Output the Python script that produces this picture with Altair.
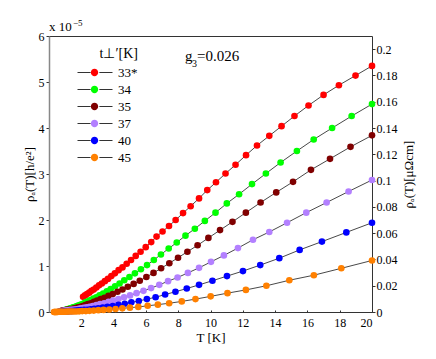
import altair as alt
import pandas as pd

series_names = ["33*", "34", "35", "37", "40", "45"]
colors = ["#ff0000", "#00ff00", "#800000", "#b380ff", "#0000ff", "#ff8000"]

T_33 = [2.11, 2.23, 2.35, 2.49, 2.63, 2.77, 2.93, 3.10, 3.27, 3.46, 3.65, 3.86, 4.08, 4.31, 4.55,
        4.81, 5.08, 5.37, 5.67, 5.99, 6.33, 6.66, 7.03, 7.43, 7.84, 8.30, 8.77, 9.29, 9.80, 10.34,
        10.93, 11.55, 12.20, 12.88, 13.64, 14.40, 15.20, 16.07, 17.00, 17.95, 18.98, 20.00]
rho_33 = [0.33, 0.36, 0.39, 0.42, 0.46, 0.49, 0.53, 0.58, 0.62, 0.67, 0.72, 0.78, 0.84, 0.91, 0.97,
          1.05, 1.13, 1.22, 1.31, 1.41, 1.52, 1.64, 1.75, 1.87, 2.00, 2.15, 2.30, 2.47, 2.65, 2.82,
          3.01, 3.20, 3.41, 3.62, 3.83, 4.04, 4.26, 4.49, 4.72, 4.93, 5.14, 5.35]

T_34 = [1.02, 1.09, 1.16, 1.24, 1.33, 1.42, 1.51, 1.62, 1.73, 1.85, 1.97, 2.11, 2.25, 2.41, 2.57,
        2.75, 2.93, 3.13, 3.35, 3.58, 3.82, 4.09, 4.37, 4.66, 4.98, 5.32, 5.69, 6.07, 6.49, 6.93,
        7.41, 7.91, 8.45, 9.03, 9.65, 10.31, 11.01, 11.77, 12.57, 13.43, 14.34, 15.35, 16.39, 17.53,
        18.74, 20.00]
rho_34 = [0.05, 0.055, 0.06, 0.07, 0.08, 0.09, 0.10, 0.115, 0.13, 0.145, 0.16, 0.18, 0.21, 0.23, 0.26,
          0.29, 0.32, 0.36, 0.40, 0.45, 0.50, 0.56, 0.62, 0.69, 0.76, 0.84, 0.93, 1.02, 1.13, 1.25,
          1.38, 1.51, 1.66, 1.81, 1.98, 2.16, 2.36, 2.56, 2.78, 3.01, 3.25, 3.50, 3.75, 4.00,
          4.26, 4.52]

T_35 = [0.78, 0.84, 0.90, 0.97, 1.04, 1.11, 1.19, 1.28, 1.37, 1.47, 1.58, 1.70, 1.82, 1.95, 2.10,
        2.25, 2.41, 2.59, 2.78, 2.98, 3.20, 3.43, 3.68, 3.95, 4.24, 4.55, 4.88, 5.24, 5.62, 6.03,
        6.47, 6.94, 7.45, 7.99, 8.57, 9.20, 9.87, 10.59, 11.36, 12.19, 13.10, 14.07, 15.11, 16.22,
        17.40, 18.67, 20.00]
rho_35 = [0.025, 0.03, 0.03, 0.035, 0.04, 0.045, 0.05, 0.055, 0.06, 0.07, 0.08, 0.09, 0.10, 0.115, 0.13,
          0.15, 0.17, 0.19, 0.22, 0.25, 0.28, 0.31, 0.35, 0.39, 0.44, 0.49, 0.55, 0.61, 0.68, 0.76,
          0.85, 0.95, 1.06, 1.18, 1.31, 1.45, 1.61, 1.78, 1.96, 2.16, 2.38, 2.60, 2.83, 3.09,
          3.33, 3.59, 3.84]

T_37 = [0.73, 0.79, 0.86, 0.92, 1.00, 1.08, 1.16, 1.26, 1.36, 1.47, 1.58, 1.71, 1.85, 1.99, 2.15,
        2.33, 2.51, 2.71, 2.93, 3.16, 3.42, 3.69, 3.98, 4.30, 4.65, 5.02, 5.42, 5.85, 6.32, 6.83,
        7.37, 7.96, 8.60, 9.29, 10.03, 10.83, 11.70, 12.63, 13.64, 14.74, 15.93, 17.19, 18.55, 20.00]
rho_37 = [0.015, 0.02, 0.02, 0.025, 0.03, 0.03, 0.035, 0.04, 0.045, 0.05, 0.055, 0.06, 0.07, 0.08, 0.09,
          0.10, 0.115, 0.13, 0.15, 0.17, 0.19, 0.22, 0.25, 0.28, 0.32, 0.36, 0.41, 0.46, 0.52, 0.59,
          0.67, 0.75, 0.85, 0.96, 1.09, 1.23, 1.39, 1.57, 1.74, 1.94, 2.16, 2.38, 2.62, 2.87]

T_40 = [0.60, 0.65, 0.71, 0.78, 0.85, 0.92, 1.00, 1.09, 1.19, 1.30, 1.41, 1.54, 1.68, 1.83, 1.99,
        2.17, 2.36, 2.57, 2.80, 3.05, 3.33, 3.62, 3.95, 4.30, 4.69, 5.10, 5.56, 6.06, 6.60, 7.19,
        7.83, 8.53, 9.29, 10.12, 11.02, 12.01, 13.08, 14.26, 15.52, 16.90, 18.41, 20.00]
rho_40 = [0.005, 0.005, 0.005, 0.01, 0.01, 0.01, 0.01, 0.015, 0.015, 0.02, 0.02, 0.025, 0.03, 0.035, 0.04,
          0.045, 0.05, 0.06, 0.07, 0.08, 0.095, 0.11, 0.13, 0.155, 0.18, 0.21, 0.24, 0.28, 0.32, 0.38,
          0.44, 0.51, 0.59, 0.68, 0.78, 0.89, 1.02, 1.17, 1.35, 1.53, 1.73, 1.94]

T_45 = [0.31, 0.35, 0.38, 0.42, 0.47, 0.52, 0.57, 0.63, 0.69, 0.77, 0.85, 0.94, 1.03, 1.14, 1.26,
        1.39, 1.53, 1.69, 1.87, 2.06, 2.28, 2.51, 2.77, 3.06, 3.38, 3.73, 4.12, 4.54, 5.01, 5.53,
        6.11, 6.74, 7.44, 8.22, 9.07, 10.01, 11.05, 12.19, 13.46, 14.88, 16.40, 18.10, 20.00]
rho_45 = [0.0, 0.0, 0.0, 0.0, 0.0, 0.0, 0.005, 0.005, 0.005, 0.005, 0.005, 0.005, 0.005, 0.01, 0.01,
          0.01, 0.01, 0.01, 0.015, 0.02, 0.02, 0.025, 0.03, 0.04, 0.045, 0.055, 0.065, 0.08, 0.095, 0.11,
          0.135, 0.16, 0.19, 0.23, 0.28, 0.34, 0.41, 0.48, 0.57, 0.69, 0.80, 0.95, 1.12]

x_ticks = [2, 4, 6, 8, 10, 12, 14, 16, 18, 20]
left_ticks = [0, 1, 2, 3, 4, 5, 6]
right_ticks = [0, 0.02, 0.04, 0.06, 0.08, 0.1, 0.12, 0.14, 0.16, 0.18, 0.2]

all_T = [T_33, T_34, T_35, T_37, T_40, T_45]
all_rho = [rho_33, rho_34, rho_35, rho_37, rho_40, rho_45]
rows = []
for name, Ts, rs in zip(series_names, all_T, all_rho):
    for t, r in zip(Ts, rs):
        rows.append({"series": name, "T": t, "rho": r})
df = pd.DataFrame(rows)

FONT = "'Liberation Serif', 'Times New Roman', Times, serif"
W, H = 323, 276

xscale = alt.Scale(domain=[0, 20], nice=False, zero=False)
yscale = alt.Scale(domain=[0, 6], nice=False)

legend_common = dict(
    orient="none", legendX=28, legendY=11, symbolSize=1225, clipHeight=17,
    rowPadding=0, labelOffset=5, labelFont=FONT, labelFontSize=13, title="t⊥′[K]",
    titleFont=FONT, titleFontSize=14, titleFontWeight="normal", titleAnchor="end",
    titlePadding=3, padding=0,
)

lines = alt.Chart(df).mark_line(strokeWidth=0.9).encode(
    x=alt.X("T:Q", scale=xscale, axis=alt.Axis(
        orient="bottom", values=x_ticks, ticks=False, labelPadding=5, labelFont=FONT,
        labelFontSize=12, labelColor="black", domainColor="#333", domainWidth=1,
        title="T [K]", titleFont=FONT, titleFontSize=13, titleFontWeight="normal",
        titleColor="black", titleY=19, titleBaseline="top", grid=False)),
    y=alt.Y("rho:Q", scale=yscale, axis=alt.Axis(
        orient="left", values=left_ticks, format="d", tickSize=3, tickColor="#333",
        labelPadding=2, labelFont=FONT, labelFontSize=12, labelColor="black",
        domainColor="#888", domainWidth=1.5, title="ρₐ(T)[h/e²]", titleFont=FONT,
        titleFontSize=13, titleFontWeight="normal", titleColor="black", titleAngle=270,
        titleX=-16, titleY=H / 2, titleBaseline="alphabetic", titleAlign="center", grid=False)),
    stroke=alt.Stroke("series:N", scale=alt.Scale(range=["#333333"] * 6), legend=alt.Legend(
        symbolType="M-1,0L-0.25,0M0.25,0L1,0", symbolStrokeWidth=1, **legend_common)),
)

points = alt.Chart(df).mark_circle(size=44, opacity=1).encode(
    x=alt.X("T:Q", scale=xscale, axis=alt.Axis(
        orient="top", offset=-H, values=x_ticks, labels=False, domain=False, ticks=True,
        tickSize=2, tickColor="#333", title=None, grid=False)),
    y=alt.Y("rho:Q", scale=yscale, axis=None),
    fill=alt.Fill("series:N", scale=alt.Scale(domain=series_names, range=colors), legend=alt.Legend(
        symbolType="M-0.21,0A0.21,0.21,0,1,0,0.21,0A0.21,0.21,0,1,0,-0.21,0Z", symbolStrokeWidth=0,
        symbolOpacity=1, labelColor="rgba(0,0,0,0)", titleColor="rgba(0,0,0,0)", **legend_common)),
)

right_df = pd.DataFrame({"v": right_ticks})
right = alt.Chart(right_df).mark_point(opacity=0).encode(
    y=alt.Y("v:Q", scale=alt.Scale(domain=[0, 0.21], nice=False), axis=alt.Axis(
        orient="right", values=right_ticks, format="~g", tickSize=3, tickColor="#333",
        labelPadding=1, labelFont=FONT, labelFontSize=12, labelColor="black", domain=False,
        title="ρₐ(T)[μΩcm]", titleFont=FONT, titleFontSize=13, titleFontWeight="normal",
        titleColor="black", titleAngle=270, titleX=40, titleY=H / 2, titleBaseline="alphabetic",
        titleAlign="center", grid=False)),
)


def label(text, x, y, size, align="left"):
    return alt.Chart(pd.DataFrame({"t": [text]})).mark_text(
        font=FONT, fontSize=size, align=align, baseline="alphabetic", color="black"
    ).encode(text="t:N", x=alt.value(x), y=alt.value(y))


t1 = label("x 10", 0, -5, 13)
t2 = label("−5", 24, -10.5, 9)
g1 = label("g", 136, 25, 15)
g2 = label("3", 143, 31, 10)
g3 = label("=0.026", 148, 25, 15)

chart = alt.layer(lines, points, right, t1, t2, g1, g2, g3).resolve_scale(
    y="independent", stroke="independent", fill="independent"
).resolve_axis(
    x="independent", y="independent"
).properties(
    width=W, height=H, autosize="none",
    padding={"left": 41, "top": 28, "right": 56, "bottom": 39},
).configure_view(stroke="#333", strokeWidth=1)

chart.save("out.html", embed_options={"renderer": "svg", "actions": False})
